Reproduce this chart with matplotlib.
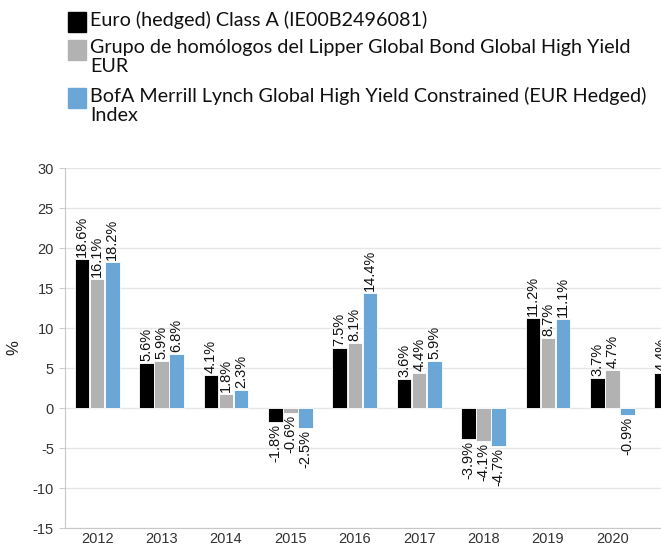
import numpy as np
import matplotlib
matplotlib.use("Agg")
import matplotlib.pyplot as plt
from matplotlib.patches import Rectangle

years = ["2012", "2013", "2014", "2015", "2016", "2017", "2018", "2019", "2020", "2021"]
fund = [18.6, 5.6, 4.1, -1.8, 7.5, 3.6, -3.9, 11.2, 3.7, 4.4]
peers = [16.1, 5.9, 1.8, -0.6, 8.1, 4.4, -4.1, 8.7, 4.7, np.nan]
index = [18.2, 6.8, 2.3, -2.5, 14.4, 5.9, -4.7, 11.1, -0.9, np.nan]
series_names = [
    "Euro (hedged) Class A (IE00B2496081)",
    "Grupo de homólogos del Lipper Global Bond Global High Yield\nEUR",
    "BofA Merrill Lynch Global High Yield Constrained (EUR Hedged)\nIndex",
]
colors = ["#000000", "#b2b2b2", "#6ba7d6"]
yticks = [-15, -10, -5, 0, 5, 10, 15, 20, 25, 30]

fig = plt.figure(figsize=(6.61, 5.48), dpi=100)
ax = fig.add_axes([65 / 661, 20 / 548, 644 / 661, 360 / 548])

x = np.arange(len(years))
w = 0.225
offs = [-0.235, 0.0, 0.235]
label_font = dict(family="Liberation Sans", size=10.5, color="#111111")
for vals, off, c in zip([fund, peers, index], offs, colors):
    vals = np.array(vals, dtype=float)
    ax.bar(x + off, vals, width=w, color=c, edgecolor="white", linewidth=0.6, zorder=3)
    for xi, v in zip(x + off, vals):
        if np.isnan(v):
            continue
        if v >= 0:
            ax.text(xi, v + 0.25, f"{v:.1f}%", rotation=90, ha="center", va="bottom", **label_font)
        else:
            ax.text(xi, v - 0.25, f"{v:.1f}%", rotation=90, ha="center", va="top", **label_font)

ax.set_xlim(-0.5, len(years) - 0.5)
ax.set_ylim(-15, 30)
ax.set_yticks(yticks)
ax.set_yticklabels([str(t) for t in yticks], family="Liberation Sans", fontsize=10.5, color="#333333")
ax.set_xticks(x)
ax.set_xticklabels(years, family="Liberation Sans", fontsize=10.5, color="#333333")
ax.tick_params(axis="x", length=0, pad=3)
ax.tick_params(axis="y", length=4, color="#cccccc", pad=4)
ax.grid(axis="y", color="#e6e6e6", linewidth=1, zorder=0)
for s in ["top", "right"]:
    ax.spines[s].set_visible(False)
ax.spines["left"].set_color("#c8c8c8")
ax.spines["bottom"].set_color("#c8c8c8")
ax.set_ylabel("%", family="Liberation Sans", fontsize=12, color="#222222")
ax.yaxis.set_label_coords(-44 / 644, 0.5)

# legend
for name, c, ytop in zip(series_names, colors, [12, 40, 88]):
    fig.add_artist(Rectangle((68 / 661, 1 - (ytop + 20) / 548), 18 / 661, 20 / 548,
                             transform=fig.transFigure, color=c))
    fig.text(90 / 661, 1 - (ytop - 1) / 548, name, ha="left", va="top",
             family="Lato", fontsize=14.2, color="#111111", linespacing=1.12)

fig.savefig("out.png", dpi=100)
